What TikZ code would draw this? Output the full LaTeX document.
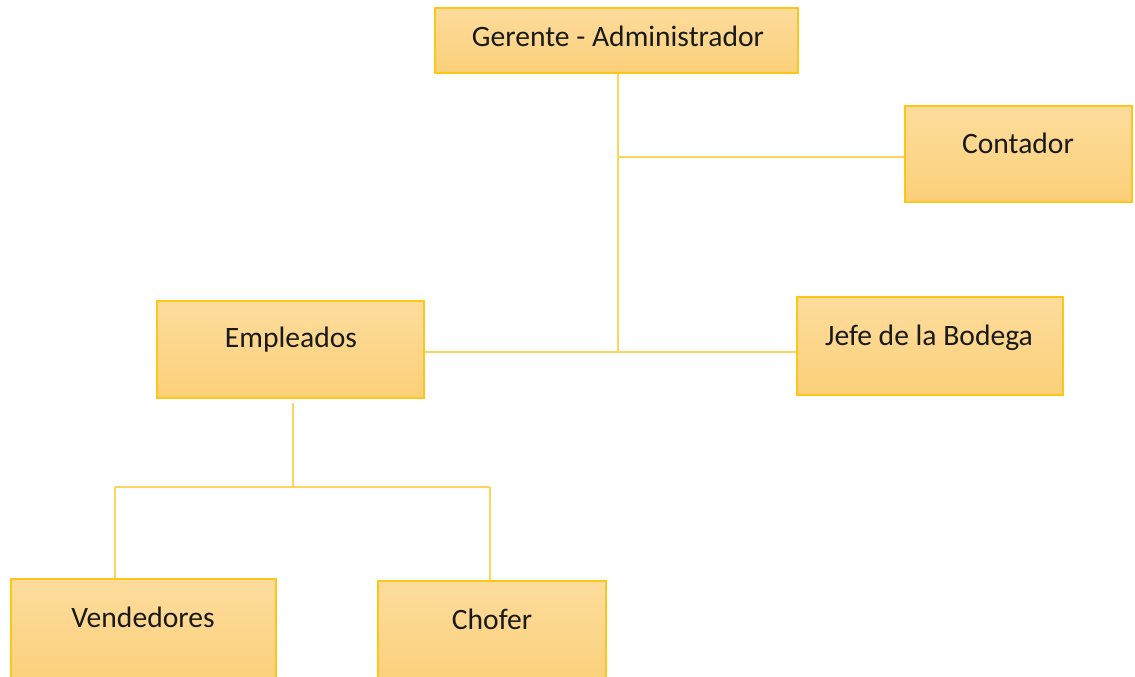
\documentclass[tikz,border=0pt]{standalone}
\usepackage{fontspec}
\setmainfont{Carlito}
\definecolor{boxborder}{HTML}{FFC61A}
\definecolor{boxtop}{HTML}{FDDC9C}
\definecolor{boxbot}{HTML}{FCD07A}
\definecolor{linkcol}{HTML}{FFD35C}
\definecolor{txt}{HTML}{1A1A1A}
\tikzset{
  orgbox/.style={draw=boxborder, line width=2pt, top color=boxtop, bottom color=boxbot,
    rectangle, inner sep=0pt},
  orglabel/.style={anchor=base, text=txt, inner sep=0pt, font=\fontsize{29.6}{35}\selectfont},
  link/.style={draw=linkcol, line width=2.6pt},
}
\begin{document}
\begin{tikzpicture}[x=1pt,y=-1pt]
\useasboundingbox (0,0) rectangle (1135,677);
% boxes
\node[orgbox, minimum width=363pt, minimum height=65pt] (ger) at (616.5,40.5) {};
\node[orgbox, minimum width=227pt, minimum height=96pt] (con) at (1018.5,154) {};
\node[orgbox, minimum width=266pt, minimum height=98pt] (jef) at (930,346) {};
\node[orgbox, minimum width=267pt, minimum height=97pt] (emp) at (290.5,349.5) {};
\node[orgbox, minimum width=265pt, minimum height=110pt] (ven) at (143.5,634) {};
\node[orgbox, minimum width=228pt, minimum height=108pt] (cho) at (492,635) {};
% labels
\node[orglabel] (gert) at (618,47) {Gerente - Administrador};
\node[orglabel] (cont) at (1018,153) {Contador};
\node[orglabel] (jeft) at (929,345) {Jefe de la Bodega};
\node[orglabel] (empt) at (291,347) {Empleados};
\node[orglabel] (vent) at (143,627) {Vendedores};
\node[orglabel] (chot) at (492,629) {Chofer};
% junctions
\coordinate (j1) at (618,157);
\coordinate (j2) at (618,352);
\coordinate (e1) at (293,403);
\coordinate (e2) at (293,487);
\coordinate (v1) at (115,487);
\coordinate (c1) at (490,487);
% connectors
\draw[link] (ger.south -| j1) -- (j2);
\draw[link] (j1) -- (j1 -| con.west);
\draw[link] (emp.east |- j2) -- (jef.west |- j2);
\draw[link] (e1) -- (e2);
\draw[link] (v1) -- (c1);
\draw[link] (v1) -- (v1 |- ven.north);
\draw[link] (c1) -- (c1 |- cho.north);
\end{tikzpicture}
\end{document}
